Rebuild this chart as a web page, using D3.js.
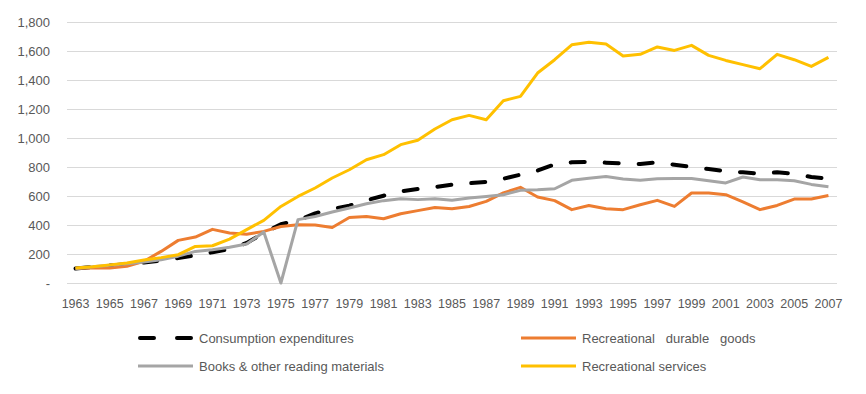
<!DOCTYPE html>
<html>
<head>
<meta charset="utf-8">
<script src="https://cdn.jsdelivr.net/npm/d3@7"></script>
<style>
  body { margin: 0; background: #fff; }
  svg text { font-family: "Liberation Sans", Arial, sans-serif; fill: #595959; }
</style>
</head>
<body>
<svg id="chart" width="866" height="394"></svg>
<script>
// years 1963..2007
var years = d3.range(1963, 2008)
var consumption = [100, 110, 120, 130, 142, 155, 172, 190, 212, 235, 276, 345, 405, 432, 480, 510, 533, 570, 602, 632, 648, 662, 678, 688, 697, 719, 747, 775, 818, 832, 836, 830, 825, 821, 832, 816, 800, 786, 770, 763, 754, 763, 754, 731, 720]
var durableGoods = [100, 105, 103, 115, 150, 218, 294, 317, 370, 345, 336, 356, 390, 402, 400, 383, 452, 459, 443, 478, 499, 521, 512, 528, 563, 621, 660, 593, 568, 506, 535, 512, 506, 540, 570, 528, 621, 621, 609, 559, 506, 535, 579, 579, 604]
var books = [100, 112, 122, 132, 145, 160, 185, 218, 230, 246, 269, 352, 0, 437, 459, 490, 517, 547, 568, 581, 575, 581, 570, 586, 597, 609, 639, 643, 650, 708, 722, 735, 717, 708, 719, 721, 721, 705, 690, 731, 712, 712, 705, 680, 664]
var services = [103, 112, 125, 138, 158, 175, 195, 252, 257, 303, 368, 432, 528, 597, 655, 724, 781, 850, 885, 954, 984, 1062, 1126, 1156, 1126, 1257, 1287, 1448, 1540, 1643, 1660, 1648, 1565, 1577, 1628, 1604, 1639, 1570, 1535, 1506, 1478, 1577, 1540, 1494, 1556]
var yTicks = [0, 200, 400, 600, 800, 1000, 1200, 1400, 1600, 1800]

var series = [
    { name: "Consumption expenditures", values: consumption, color: "#000000", width: 4, dash: "14,20" },
    { name: "Recreational   durable   goods", values: durableGoods, color: "#ED7D31", width: 3, dash: null },
    { name: "Books & other reading materials", values: books, color: "#A5A5A5", width: 3, dash: null },
    { name: "Recreational services", values: services, color: "#FFC000", width: 3, dash: null }
]

var svg = d3.select("#chart")
var margin = { left: 67, right: 29, top: 22, bottom: 111 }
var width = 866 - margin.left - margin.right
var height = 394 - margin.top - margin.bottom

var x = d3.scaleBand().domain(years).range([margin.left, margin.left + width])
var y = d3.scaleLinear().domain([0, 1800]).range([margin.top + height, margin.top])

// gridlines
svg.append("g")
    .selectAll("line")
    .data(yTicks)
    .enter()
    .append("line")
    .attr("x1", margin.left)
    .attr("x2", margin.left + width)
    .attr("y1", d => Math.round(y(d)) + 0.5)
    .attr("y2", d => Math.round(y(d)) + 0.5)
    .attr("stroke", "#d9d9d9")
    .attr("stroke-width", 1)

// y labels
svg.append("g")
    .selectAll("text")
    .data(yTicks)
    .enter()
    .append("text")
    .attr("x", 50)
    .attr("y", d => y(d) + 4.5)
    .attr("text-anchor", "end")
    .style("font-size", "13px")
    .text(d => d == 0 ? "-" : d3.format(",")(d))

// x labels, every other year
svg.append("g")
    .selectAll("text")
    .data(years.filter((d, i) => i % 2 == 0))
    .enter()
    .append("text")
    .attr("x", d => x(d) + x.bandwidth() / 2)
    .attr("y", 308)
    .attr("text-anchor", "middle")
    .style("font-size", "12.5px")
    .text(d => d)

var line = d3.line()
    .x((d, i) => x(years[i]) + x.bandwidth() / 2)
    .y(d => y(d))

series.forEach(s => {
    svg.append("path")
        .datum(s.values)
        .attr("d", line)
        .attr("fill", "none")
        .attr("stroke", s.color)
        .attr("stroke-width", s.width)
        .attr("stroke-linejoin", "round")
        .attr("stroke-linecap", s.dash ? "round" : "butt")
        .attr("stroke-dasharray", s.dash)
})

// legend, 2 columns
var legendPos = [[138, 338], [521, 338], [138, 366], [521, 366]]
series.forEach((s, i) => {
    var g = svg.append("g").attr("transform", "translate(" + legendPos[i][0] + "," + legendPos[i][1] + ")")
    g.append("line")
        .attr("x1", s.dash ? 2 : 0).attr("x2", s.dash ? 53 : 55)
        .attr("y1", 0).attr("y2", 0)
        .attr("stroke", s.color)
        .attr("stroke-width", s.width)
        .attr("stroke-linecap", s.dash ? "round" : "butt")
        .attr("stroke-dasharray", s.dash ? "14,23" : null)
    g.append("text")
        .attr("x", 61)
        .attr("y", 4.5)
        .style("font-size", "13px")
        .style("white-space", "pre")
        .attr("xml:space", "preserve")
        .text(s.name)
})
</script>
</body>
</html>
